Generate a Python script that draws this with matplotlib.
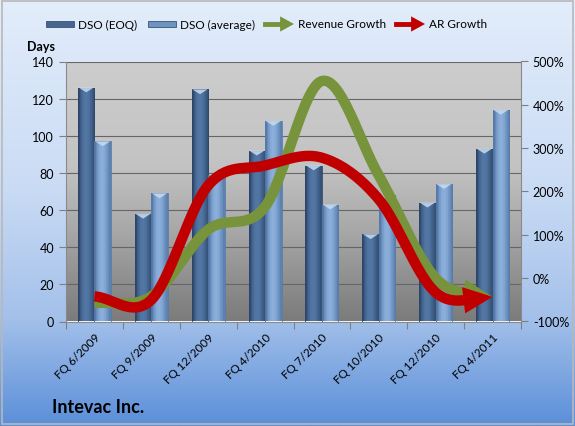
import numpy as np
import matplotlib
matplotlib.use("Agg")
import matplotlib.pyplot as plt
from matplotlib.patches import FancyArrowPatch, Rectangle, Polygon
from matplotlib.colors import LinearSegmentedColormap

plt.rcParams['font.family'] = ['Lato', 'DejaVu Sans']

# Dados
quarters = ["FQ 6/2009", "FQ 9/2009", "FQ 12/2009", "FQ 4/2010",
            "FQ 7/2010", "FQ 10/2010", "FQ 12/2010", "FQ 4/2011"]
dso_eoq = [126, 58, 125, 92, 84, 47, 64, 93]
dso_avg = [97, 69, 79, 108, 63, 68, 74, 114]
revenue_growth = [-58, -42, 112, 165, 455, 237, 0, -43]
ar_growth = [-42, -50, 214, 260, 278, 182, -33, -43]

legend_labels = ["DSO (EOQ)", "DSO (average)", "Revenue Growth", "AR Growth"]
c_eoq = "#46648d"
c_avg = "#6e93c1"
c_rev = "#77933c"
c_ar = "#c00000"


def catmull_rom(xs, ys, n=30):
    # curva suavizada tipo Excel
    xs = np.asarray(xs, float)
    ys = np.asarray(ys, float)
    px = np.concatenate([[2 * xs[0] - xs[1]], xs, [2 * xs[-1] - xs[-2]]])
    py = np.concatenate([[2 * ys[0] - ys[1]], ys, [2 * ys[-1] - ys[-2]]])
    outx, outy = [], []
    t = np.linspace(0, 1, n, endpoint=False)
    for i in range(1, len(px) - 2):
        for p, out in ((px, outx), (py, outy)):
            p0, p1, p2, p3 = p[i - 1], p[i], p[i + 1], p[i + 2]
            out.extend(0.5 * ((2 * p1) + (-p0 + p2) * t
                              + (2 * p0 - 5 * p1 + 4 * p2 - p3) * t ** 2
                              + (-p0 + 3 * p1 - 3 * p2 + p3) * t ** 3))
    outx.append(xs[-1])
    outy.append(ys[-1])
    return np.array(outx), np.array(outy)


fig = plt.figure(figsize=(5.75, 4.27), dpi=100)

# fundo do gráfico (gradiente azul)
bg = fig.add_axes([0, 0, 1, 1], zorder=-10)
bg_cmap = LinearSegmentedColormap.from_list(
    "bg", [(0, "#e3edfb"), (0.45, "#c9dbf4"), (0.75, "#a3c0ea"), (1, "#5b8fd9")])
bg.imshow(np.linspace(0, 1, 256).reshape(-1, 1), aspect="auto", cmap=bg_cmap,
          extent=[0, 1, 0, 1], origin="upper")
bg.add_patch(Rectangle((0.004, 0.004), 0.992, 0.992, fill=False,
                       edgecolor="#b8b8b8", lw=1.2, transform=bg.transAxes))
bg.set_xlim(0, 1)
bg.set_ylim(0, 1)
bg.axis("off")

L, R, T, B = 66 / 575, 521 / 575, 62.5 / 427, 322.5 / 427
ax = fig.add_axes([L, 1 - B, R - L, B - T])

x = np.arange(len(quarters))
ax.set_xlim(-0.5, len(quarters) - 0.5)
ax.set_ylim(0, 140)

# fundo da área de plotagem (gradiente cinza)
pa_cmap = LinearSegmentedColormap.from_list(
    "pa", [(0, "#cdcdcd"), (0.4, "#c3c3c3"), (0.65, "#a8a8a8"), (1, "#7b7b7b")])
ax.imshow(np.linspace(0, 1, 256).reshape(-1, 1), aspect="auto", cmap=pa_cmap,
          extent=[-0.5, len(quarters) - 0.5, 0, 140], origin="upper", zorder=0)

ax.set_yticks(np.arange(0, 141, 20))
ax.yaxis.grid(True, color="#666666", lw=0.8, zorder=1)

w = 0.29
grad = np.array([0, 0.35, 0.55, 0.6, 0.5, 0.3, 0.1]).reshape(1, -1)
cm_eoq = LinearSegmentedColormap.from_list("eoq", ["#2f4b70", "#5478a6"])
cm_avg = LinearSegmentedColormap.from_list("avg", ["#5479aa", "#8cb0db"])
for vals, off, cm, ec in ((dso_eoq, -w / 2, cm_eoq, "#2e4566"),
                          (dso_avg, w / 2, cm_avg, "#587ca9")):
    bars = ax.bar(x + off, vals, w, color="none", edgecolor=ec, lw=0.6, zorder=3)
    for b in bars:
        x0, x1 = b.get_x(), b.get_x() + b.get_width()
        im = ax.imshow(grad, aspect="auto", cmap=cm, vmin=0, vmax=0.6,
                       extent=[x0, x1, 0, b.get_height()], zorder=2)
        im.set_clip_path(b)
        h = b.get_height()
        ax.add_patch(Polygon([[x0 + 0.01, h], [x1 - 0.01, h],
                              [x0 + b.get_width() / 2, h - 2.6]],
                             closed=True, color="#c8dcf2", alpha=0.85, lw=0, zorder=3))
ax.set_xlim(-0.5, len(quarters) - 0.5)
ax.set_ylim(0, 140)

ax.set_xticks(np.arange(-0.5, len(quarters), 1), minor=False)
ax.set_xticklabels([])
ax.set_xticks(x, minor=True)
ax.set_xticklabels(quarters, minor=True, rotation=45, ha="right",
                   rotation_mode="anchor", fontsize=8.5)
ax.tick_params(axis="x", which="minor", length=0, pad=7)
ax.tick_params(axis="x", which="major", length=5, color="#7f7f7f")
ax.tick_params(axis="y", length=5, color="#7f7f7f", labelsize=9)
for s in ["top", "right"]:
    ax.spines[s].set_visible(False)
ax.spines["left"].set_color("#8a8a8a")
ax.spines["bottom"].set_color("#8a8a8a")

ax2 = ax.twinx()
ax2.set_ylim(-100, 500)
ax2.set_yticks(np.arange(-100, 501, 100))
ax2.set_yticklabels([f"{v}%" for v in range(-100, 501, 100)])
ax2.tick_params(axis="y", length=5, color="#7f7f7f", labelsize=9)
for s in ["top", "left", "bottom"]:
    ax2.spines[s].set_visible(False)
ax2.spines["right"].set_color("#8a8a8a")

head_len_px = 28
for vals, col in ((revenue_growth, c_rev), (ar_growth, c_ar)):
    cx, cy = catmull_rom(x, vals)
    pts = ax2.transData.transform(np.column_stack([cx, cy]))
    d = np.hypot(*(pts - pts[-1]).T)
    ia = np.where(d > head_len_px)[0][-1]
    ib = np.where(d > head_len_px * 0.5)[0][-1]
    ax2.plot(cx[:ib + 1], cy[:ib + 1], color=col, lw=7.5,
             solid_capstyle="butt", solid_joinstyle="round", zorder=5)
    ax2.add_patch(FancyArrowPatch((cx[ia], cy[ia]), (cx[-1], cy[-1]),
                                  arrowstyle="-|>,head_length=2.1,head_width=0.95",
                                  mutation_scale=10, color=col, lw=0,
                                  shrinkA=0, shrinkB=0, zorder=5))

fig.text(27 / 575, 1 - 47 / 427, "Days", fontsize=9, fontweight="bold", va="center")
fig.text(52 / 575, 1 - 408 / 427, "Intevac Inc.", fontsize=13, fontweight="bold",
         va="center")

# legenda manual
ly = 1 - 25 / 427
for x0, col, lab in ((46, c_eoq, legend_labels[0]), (148, c_avg, legend_labels[1])):
    fig.patches.append(Rectangle((x0 / 575, ly - 3 / 427), 28 / 575, 6 / 427,
                                 transform=fig.transFigure, color=col, ec="#3a5275", lw=0.6))
    fig.text((x0 + 32) / 575, ly, lab, fontsize=8.5, va="center")
for x0, col, lab in ((265, c_rev, legend_labels[2]), (396, c_ar, legend_labels[3])):
    fig.lines.append(plt.Line2D([x0 / 575, (x0 + 19) / 575], [ly, ly],
                                transform=fig.transFigure, color=col, lw=3.5))
    fig.patches.append(FancyArrowPatch((x0 / 575, ly), ((x0 + 29) / 575, ly),
                                       transform=fig.transFigure,
                                       arrowstyle="-|>,head_length=1.0,head_width=0.55",
                                       mutation_scale=10, color=col, lw=0,
                                       shrinkA=0, shrinkB=0))
    fig.text((x0 + 33) / 575, ly, lab, fontsize=8.5, va="center")

fig.savefig("out.png", dpi=100)
